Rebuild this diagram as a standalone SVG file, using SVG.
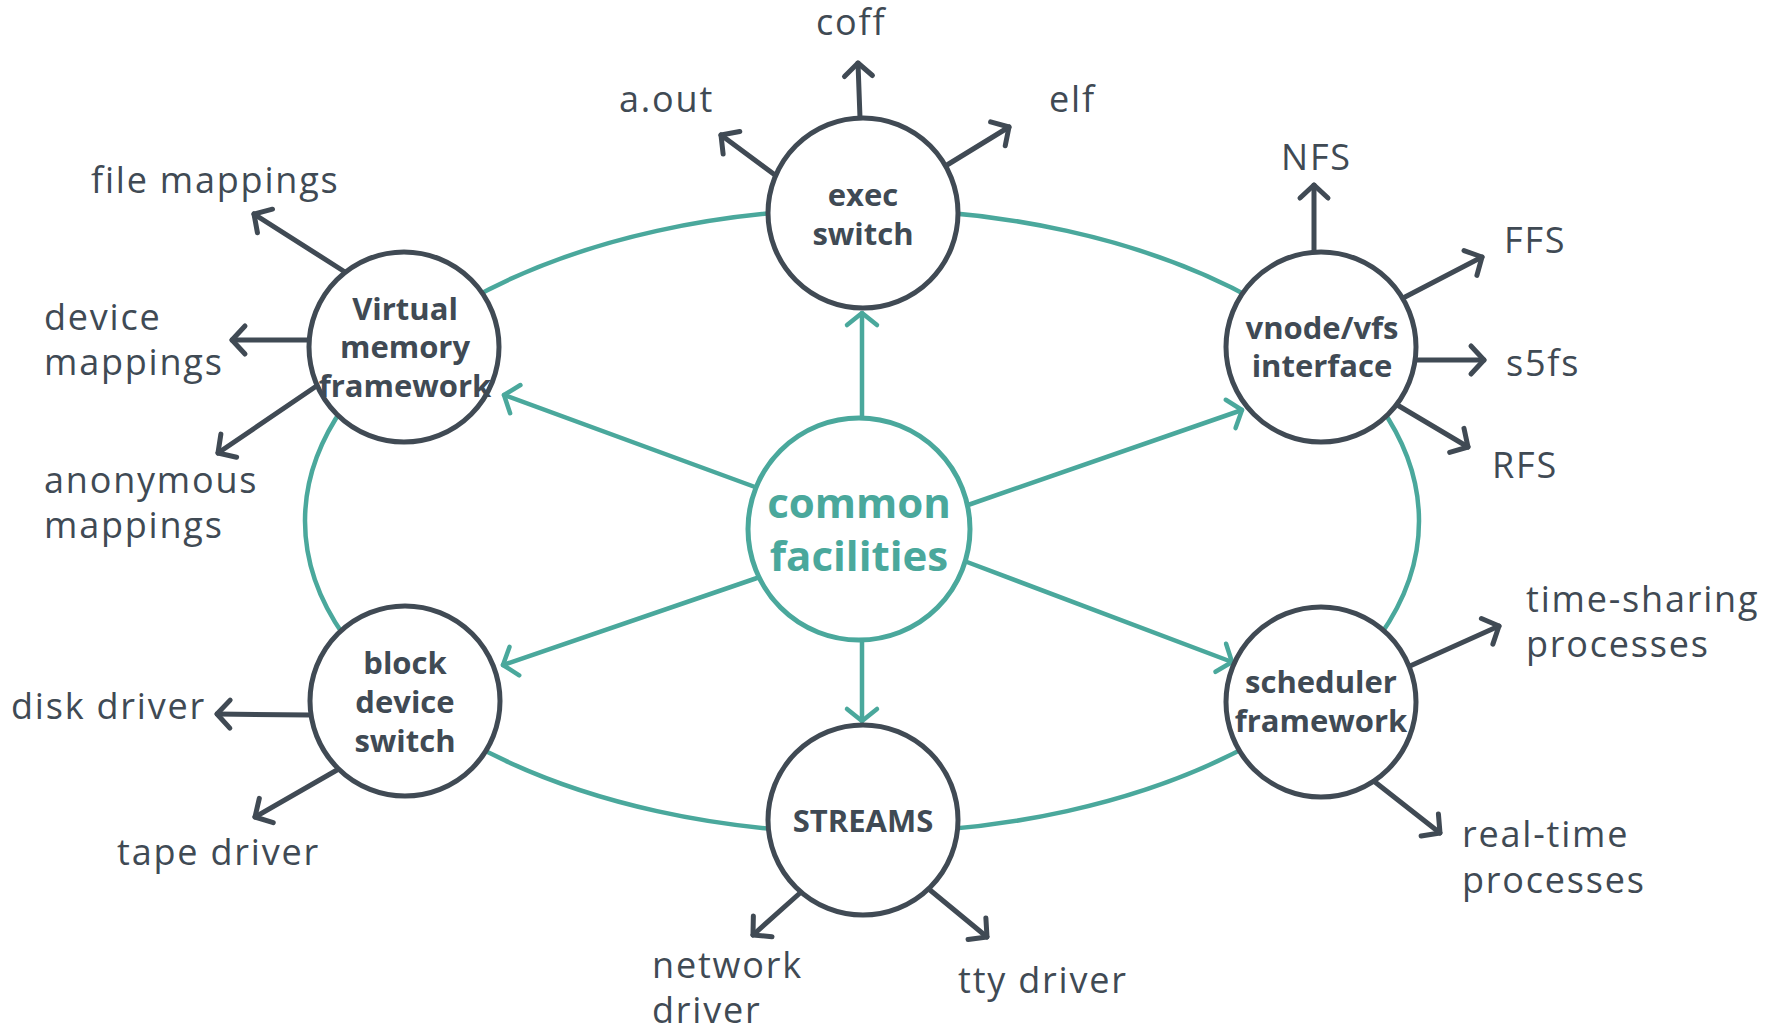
<svg xmlns="http://www.w3.org/2000/svg" width="1778" height="1031" viewBox="0 0 1778 1031">
<style>
  .bg{fill:#ffffff}
  .node{fill:#ffffff;stroke:#404a54;stroke-width:5}
  .hub{fill:#ffffff;stroke:#4aa89c;stroke-width:5}
  .ring{fill:none;stroke:#4aa89c;stroke-width:4.5}
  .tl{fill:none;stroke:#4aa89c;stroke-width:4.5;stroke-linecap:round;marker-end:url(#ta)}
  .dl{fill:none;stroke:#404a54;stroke-width:5;stroke-linecap:round;marker-end:url(#da)}
  .nt{font-family:"Open Sans","Liberation Sans",sans-serif;font-weight:700;font-size:31px;fill:#404a54;text-anchor:middle}
  .ht{font-family:"Open Sans","Liberation Sans",sans-serif;font-weight:700;font-size:42px;fill:#4aa89c;text-anchor:middle}
  .lb{font-family:"Open Sans","Liberation Sans",sans-serif;font-weight:400;font-size:36px;fill:#404a54;letter-spacing:1.8px}
</style>
<defs>
  <marker id="da" markerUnits="userSpaceOnUse" viewBox="-20 -20 40 40" markerWidth="40" markerHeight="40" refX="0" refY="0" orient="auto">
    <path d="M-13,-14 L0,0 L-13,14" fill="none" stroke="#404a54" stroke-width="5" stroke-linecap="round" stroke-linejoin="round"/>
  </marker>
  <marker id="ta" markerUnits="userSpaceOnUse" viewBox="-20 -20 40 40" markerWidth="40" markerHeight="40" refX="0" refY="0" orient="auto">
    <path d="M-12,-15 L0,0 L-12,15" fill="none" stroke="#4aa89c" stroke-width="4.5" stroke-linecap="round" stroke-linejoin="round"/>
  </marker>
</defs>
<rect class="bg" x="0" y="0" width="1778" height="1031"/>
<g id="connectors">
  <ellipse class="ring" cx="862" cy="521" rx="557" ry="312"/>
  <line class="tl" x1="862" y1="418" x2="862" y2="313"/>
  <line class="tl" x1="862" y1="640" x2="862" y2="721"/>
  <line class="tl" x1="755" y1="487" x2="504" y2="395"/>
  <line class="tl" x1="968" y1="505" x2="1242" y2="410"/>
  <line class="tl" x1="757" y1="578" x2="503" y2="665"/>
  <line class="tl" x1="967" y1="562" x2="1232" y2="662"/>
  <line class="dl" x1="860" y1="118" x2="858" y2="63"/>
  <line class="dl" x1="775" y1="175" x2="721" y2="135"/>
  <line class="dl" x1="947" y1="165" x2="1009" y2="127"/>
  <line class="dl" x1="345" y1="272" x2="254" y2="214"/>
  <line class="dl" x1="310" y1="340" x2="232" y2="340"/>
  <line class="dl" x1="318" y1="385" x2="218" y2="453"/>
  <line class="dl" x1="1314" y1="251" x2="1314" y2="185"/>
  <line class="dl" x1="1405" y1="297" x2="1482" y2="257"/>
  <line class="dl" x1="1416" y1="360" x2="1484" y2="360"/>
  <line class="dl" x1="1399" y1="406" x2="1468" y2="447"/>
  <line class="dl" x1="310" y1="715" x2="217" y2="714"/>
  <line class="dl" x1="337" y1="770" x2="255" y2="817"/>
  <line class="dl" x1="1410" y1="666" x2="1499" y2="626"/>
  <line class="dl" x1="1375" y1="782" x2="1440" y2="833"/>
  <line class="dl" x1="800" y1="893" x2="753" y2="935"/>
  <line class="dl" x1="930" y1="890" x2="987" y2="937"/>
</g>
<g id="common">
  <circle class="hub" cx="859" cy="529" r="111"/>
  <text class="ht" x="859" y="518">common</text>
  <text class="ht" x="859" y="571">facilities</text>
</g>
<g id="exec">
  <circle class="node" cx="863" cy="213" r="95"/>
  <text class="nt" x="863" y="206">exec</text>
  <text class="nt" x="863" y="245">switch</text>
</g>
<g id="vm">
  <circle class="node" cx="404" cy="347" r="95"/>
  <text class="nt" x="405" y="320">Virtual</text>
  <text class="nt" x="405" y="358">memory</text>
  <text class="nt" x="405" y="397">framework</text>
</g>
<g id="vnode">
  <circle class="node" cx="1321" cy="347" r="95"/>
  <text class="nt" x="1322" y="339">vnode/vfs</text>
  <text class="nt" x="1322" y="377">interface</text>
</g>
<g id="block">
  <circle class="node" cx="405" cy="701" r="95"/>
  <text class="nt" x="405" y="674">block</text>
  <text class="nt" x="405" y="713">device</text>
  <text class="nt" x="405" y="752">switch</text>
</g>
<g id="scheduler">
  <circle class="node" cx="1321" cy="702" r="95"/>
  <text class="nt" x="1321" y="693">scheduler</text>
  <text class="nt" x="1321" y="732">framework</text>
</g>
<g id="streams">
  <circle class="node" cx="863" cy="820" r="95"/>
  <text class="nt" x="863" y="832">STREAMS</text>
</g>
<g id="labels">
  <text class="lb" x="816" y="35">coff</text>
  <text class="lb" x="619" y="112">a.out</text>
  <text class="lb" x="1049" y="112">elf</text>
  <text class="lb" x="91" y="193">file mappings</text>
  <text class="lb" x="44" y="330">device</text>
  <text class="lb" x="44" y="375">mappings</text>
  <text class="lb" x="44" y="493">anonymous</text>
  <text class="lb" x="44" y="538">mappings</text>
  <text class="lb" x="1281" y="170">NFS</text>
  <text class="lb" x="1504" y="253">FFS</text>
  <text class="lb" x="1506" y="376">s5fs</text>
  <text class="lb" x="1492" y="478">RFS</text>
  <text class="lb" x="11" y="719">disk driver</text>
  <text class="lb" x="117" y="865">tape driver</text>
  <text class="lb" x="1526" y="612">time-sharing</text>
  <text class="lb" x="1526" y="657">processes</text>
  <text class="lb" x="1462" y="847">real-time</text>
  <text class="lb" x="1462" y="893">processes</text>
  <text class="lb" x="652" y="978">network</text>
  <text class="lb" x="652" y="1023">driver</text>
  <text class="lb" x="958" y="993">tty driver</text>
</g>
</svg>
